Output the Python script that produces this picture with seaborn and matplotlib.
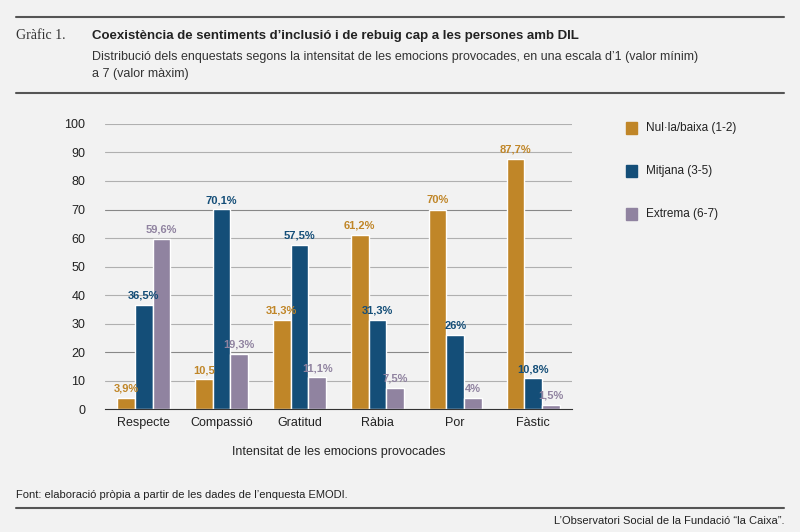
import pandas as pd
import matplotlib.pyplot as plt
import seaborn as sns

categories = ["Respecte", "Compassió", "Gratitud", "Ràbia", "Por", "Fàstic"]
series = ["Nul·la/baixa (1-2)", "Mitjana (3-5)", "Extrema (6-7)"]
baixa = [3.9, 10.5, 31.3, 61.2, 70, 87.7]
mitjana = [36.5, 70.1, 57.5, 31.3, 26, 10.8]
extrema = [59.6, 19.3, 11.1, 7.5, 4, 1.5]
labels_baixa = ["3,9%", "10,5", "31,3%", "61,2%", "70%", "87,7%"]
labels_mitjana = ["36,5%", "70,1%", "57,5%", "31,3%", "26%", "10,8%"]
labels_extrema = ["59,6%", "19,3%", "11,1%", "7,5%", "4%", "1,5%"]
colors = ["#c08628", "#144e78", "#9083a0"]

df = pd.DataFrame({
    "cat": categories * 3,
    "serie": [series[0]] * 6 + [series[1]] * 6 + [series[2]] * 6,
    "val": baixa + mitjana + extrema,
})

bg = "#f2f2f2"
sns.set_style("white")
plt.rcParams["font.family"] = ["Liberation Sans", "DejaVu Sans"]
fig = plt.figure(figsize=(8, 5.32), dpi=100, facecolor=bg)
ax = fig.add_axes([0.131, 0.231, 0.584, 0.536], facecolor=bg)

sns.barplot(data=df, x="cat", y="val", hue="serie", palette=colors,
            width=0.68, ax=ax, legend=False, saturation=1)

for cont, labs, c in zip(ax.containers, [labels_baixa, labels_mitjana, labels_extrema], colors):
    ax.bar_label(cont, labels=labs, padding=3, color=c, fontsize=8, fontweight="bold")

ax.set_ylim(0, 100)
ax.set_yticks(range(0, 101, 10))
ax.tick_params(axis="y", length=0, labelsize=9, colors="#222222", pad=14)
ax.tick_params(axis="x", length=0, labelsize=9, colors="#222222", pad=6)
for t in range(10, 101, 10):
    ax.axhline(t, color="#b0b0b0" if t not in (20, 70) else "#888888", lw=0.8, zorder=0)
for s in ["top", "right", "left"]:
    ax.spines[s].set_visible(False)
ax.spines["bottom"].set_color("#333333")
ax.set_xlabel("Intensitat de les emocions provocades", fontsize=9, labelpad=12)
ax.set_ylabel("")

# legend
for i, (s, c) in enumerate(zip(series, colors)):
    y = 0.76 - i * 0.081
    fig.patches.append(plt.Rectangle((0.783, y - 0.011), 0.013, 0.022, color=c, transform=fig.transFigure))
    fig.text(0.808, y, s, fontsize=8.5, va="center", color="#222222")

# header / footer
line_kw = dict(color="#555555", lw=1.5, transform=fig.transFigure)
fig.add_artist(plt.Line2D([0.02, 0.98], [0.968, 0.968], **line_kw))
fig.add_artist(plt.Line2D([0.02, 0.98], [0.825, 0.825], **line_kw))
fig.add_artist(plt.Line2D([0.02, 0.98], [0.045, 0.045], **line_kw))
fig.text(0.02, 0.933, "Gràfic 1.", fontsize=10, family=["Liberation Serif", "DejaVu Serif"], va="center", color="#333333")
fig.text(0.115, 0.933, "Coexistència de sentiments d’inclusió i de rebuig cap a les persones amb DIL",
         fontsize=9.5, fontweight="bold", va="center", color="#222222")
fig.text(0.115, 0.893, "Distribució dels enquestats segons la intensitat de les emocions provocades, en una escala d’1 (valor mínim)",
         fontsize=9, va="center", color="#333333")
fig.text(0.115, 0.860, "a 7 (valor màxim)", fontsize=9, va="center", color="#333333")
fig.text(0.02, 0.07, "Font: elaboració pròpia a partir de les dades de l’enquesta EMODI.", fontsize=8, va="center", color="#222222")
fig.text(0.98, 0.02, "L’Observatori Social de la Fundació “la Caixa”.", fontsize=8, ha="right", va="center", color="#222222")

fig.savefig("out.png", dpi=100, facecolor=bg)
